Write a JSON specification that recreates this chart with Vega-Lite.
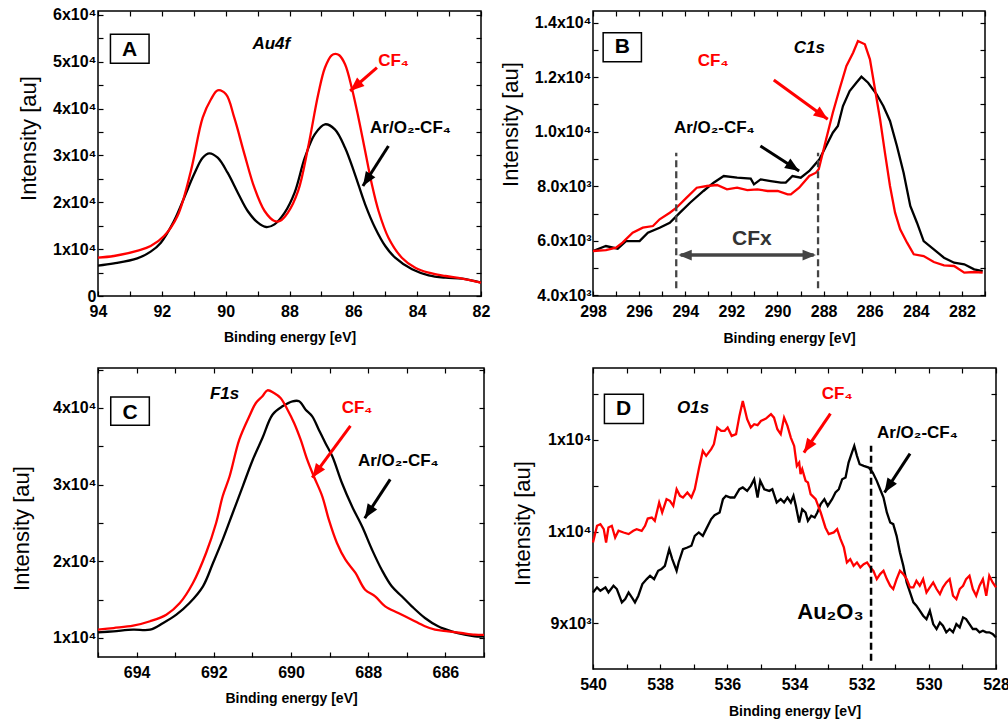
{
  "$schema": "https://vega.github.io/schema/vega-lite/v6.json",
  "background": "white",
  "padding": {"left": 9, "top": 6, "right": 0, "bottom": 0},
  "bounds": "flush",
  "columns": 2,
  "spacing": {"row": 72, "column": 109},
  "datasets": {
    "A": [
      {"E":94,"I":6500,"s":"Ar"},{"E":93.5,"I":6970,"s":"Ar"},{"E":92.77,"I":8040,"s":"Ar"},{"E":92.35,"I":9470,"s":"Ar"},{"E":92.03,"I":11380,"s":"Ar"},{"E":91.62,"I":16010,"s":"Ar"},{"E":91.3,"I":20990,"s":"Ar"},{"E":90.99,"I":25980,"s":"Ar"},{"E":90.72,"I":29530,"s":"Ar"},{"E":90.51,"I":30470,"s":"Ar"},{"E":90.25,"I":29530,"s":"Ar"},{"E":89.94,"I":26330,"s":"Ar"},{"E":89.62,"I":22060,"s":"Ar"},{"E":89.31,"I":18150,"s":"Ar"},{"E":88.99,"I":15650,"s":"Ar"},{"E":88.73,"I":14730,"s":"Ar"},{"E":88.47,"I":15300,"s":"Ar"},{"E":88.15,"I":17790,"s":"Ar"},{"E":87.84,"I":22060,"s":"Ar"},{"E":87.52,"I":29530,"s":"Ar"},{"E":87.21,"I":34520,"s":"Ar"},{"E":86.89,"I":36660,"s":"Ar"},{"E":86.58,"I":35590,"s":"Ar"},{"E":86.26,"I":31660,"s":"Ar"},{"E":85.95,"I":25980,"s":"Ar"},{"E":85.63,"I":19580,"s":"Ar"},{"E":85.32,"I":14580,"s":"Ar"},{"E":85.0,"I":10680,"s":"Ar"},{"E":84.69,"I":8180,"s":"Ar"},{"E":84.16,"I":5700,"s":"Ar"},{"E":83.64,"I":4420,"s":"Ar"},{"E":83.11,"I":3910,"s":"Ar"},{"E":82.59,"I":3700,"s":"Ar"},{"E":82.0,"I":2840,"s":"Ar"},
      {"E":94,"I":8200,"s":"CF4"},{"E":93.5,"I":8540,"s":"CF4"},{"E":92.72,"I":9757,"s":"CF4"},{"E":92.35,"I":10675,"s":"CF4"},{"E":91.93,"I":12810,"s":"CF4"},{"E":91.51,"I":17080,"s":"CF4"},{"E":91.09,"I":26690,"s":"CF4"},{"E":90.72,"I":38070,"s":"CF4"},{"E":90.46,"I":42000,"s":"CF4"},{"E":90.25,"I":43910,"s":"CF4"},{"E":89.99,"I":43060,"s":"CF4"},{"E":89.73,"I":38070,"s":"CF4"},{"E":89.41,"I":30250,"s":"CF4"},{"E":89.1,"I":23120,"s":"CF4"},{"E":88.78,"I":18150,"s":"CF4"},{"E":88.47,"I":16010,"s":"CF4"},{"E":88.3,"I":16010,"s":"CF4"},{"E":88.05,"I":17790,"s":"CF4"},{"E":87.73,"I":22420,"s":"CF4"},{"E":87.42,"I":31660,"s":"CF4"},{"E":87.1,"I":43060,"s":"CF4"},{"E":86.89,"I":48740,"s":"CF4"},{"E":86.68,"I":51400,"s":"CF4"},{"E":86.56,"I":51700,"s":"CF4"},{"E":86.44,"I":51400,"s":"CF4"},{"E":86.26,"I":49470,"s":"CF4"},{"E":86.05,"I":44470,"s":"CF4"},{"E":85.84,"I":38070,"s":"CF4"},{"E":85.63,"I":30960,"s":"CF4"},{"E":85.42,"I":23850,"s":"CF4"},{"E":85.21,"I":18150,"s":"CF4"},{"E":84.9,"I":12450,"s":"CF4"},{"E":84.48,"I":8180,"s":"CF4"},{"E":84.06,"I":6040,"s":"CF4"},{"E":83.64,"I":4980,"s":"CF4"},{"E":83.11,"I":4270,"s":"CF4"},{"E":82.59,"I":3700,"s":"CF4"},{"E":82.0,"I":2840,"s":"CF4"}
    ],
    "B": [
      {"E":298,"I":5625,"s":"Ar"},{"E":297.44,"I":5808,"s":"Ar"},{"E":296.93,"I":5710,"s":"Ar"},{"E":296.57,"I":5990,"s":"Ar"},{"E":295.98,"I":5990,"s":"Ar"},{"E":295.62,"I":6295,"s":"Ar"},{"E":295.11,"I":6480,"s":"Ar"},{"E":294.67,"I":6662,"s":"Ar"},{"E":294.23,"I":7030,"s":"Ar"},{"E":293.79,"I":7395,"s":"Ar"},{"E":293.21,"I":7825,"s":"Ar"},{"E":292.77,"I":8130,"s":"Ar"},{"E":292.33,"I":8375,"s":"Ar"},{"E":291.75,"I":8312,"s":"Ar"},{"E":291.16,"I":8276,"s":"Ar"},{"E":291.02,"I":8070,"s":"Ar"},{"E":290.73,"I":8252,"s":"Ar"},{"E":290.29,"I":8191,"s":"Ar"},{"E":289.85,"I":8130,"s":"Ar"},{"E":289.64,"I":8130,"s":"Ar"},{"E":289.35,"I":8375,"s":"Ar"},{"E":288.99,"I":8312,"s":"Ar"},{"E":288.62,"I":8558,"s":"Ar"},{"E":288.18,"I":8987,"s":"Ar"},{"E":287.89,"I":9475,"s":"Ar"},{"E":287.6,"I":9963,"s":"Ar"},{"E":287.38,"I":10208,"s":"Ar"},{"E":287.16,"I":10940,"s":"Ar"},{"E":286.87,"I":11490,"s":"Ar"},{"E":286.58,"I":11796,"s":"Ar"},{"E":286.36,"I":12016,"s":"Ar"},{"E":286.07,"I":11796,"s":"Ar"},{"E":285.7,"I":11371,"s":"Ar"},{"E":285.41,"I":10940,"s":"Ar"},{"E":285.12,"I":10392,"s":"Ar"},{"E":284.82,"I":9475,"s":"Ar"},{"E":284.53,"I":8496,"s":"Ar"},{"E":284.24,"I":7275,"s":"Ar"},{"E":283.95,"I":6662,"s":"Ar"},{"E":283.66,"I":5990,"s":"Ar"},{"E":283.22,"I":5687,"s":"Ar"},{"E":282.78,"I":5380,"s":"Ar"},{"E":282.34,"I":5195,"s":"Ar"},{"E":281.9,"I":5136,"s":"Ar"},{"E":281.47,"I":4953,"s":"Ar"},{"E":281.1,"I":4890,"s":"Ar"},
      {"E":298,"I":5625,"s":"CF4"},{"E":297.44,"I":5660,"s":"CF4"},{"E":297.0,"I":5745,"s":"CF4"},{"E":296.72,"I":5930,"s":"CF4"},{"E":296.28,"I":6295,"s":"CF4"},{"E":295.84,"I":6480,"s":"CF4"},{"E":295.4,"I":6540,"s":"CF4"},{"E":295.11,"I":6787,"s":"CF4"},{"E":294.67,"I":7030,"s":"CF4"},{"E":294.38,"I":7212,"s":"CF4"},{"E":293.94,"I":7580,"s":"CF4"},{"E":293.5,"I":7945,"s":"CF4"},{"E":293.06,"I":8008,"s":"CF4"},{"E":292.62,"I":8045,"s":"CF4"},{"E":292.19,"I":7887,"s":"CF4"},{"E":291.75,"I":7945,"s":"CF4"},{"E":291.31,"I":7860,"s":"CF4"},{"E":290.87,"I":7887,"s":"CF4"},{"E":290.43,"I":7825,"s":"CF4"},{"E":289.99,"I":7825,"s":"CF4"},{"E":289.56,"I":7703,"s":"CF4"},{"E":289.42,"I":7703,"s":"CF4"},{"E":289.06,"I":7945,"s":"CF4"},{"E":288.62,"I":8375,"s":"CF4"},{"E":288.33,"I":8496,"s":"CF4"},{"E":288.21,"I":8620,"s":"CF4"},{"E":287.89,"I":9720,"s":"CF4"},{"E":287.6,"I":10696,"s":"CF4"},{"E":287.31,"I":11554,"s":"CF4"},{"E":287.01,"I":12408,"s":"CF4"},{"E":286.72,"I":12896,"s":"CF4"},{"E":286.51,"I":13325,"s":"CF4"},{"E":286.21,"I":13204,"s":"CF4"},{"E":285.99,"I":12654,"s":"CF4"},{"E":285.77,"I":11554,"s":"CF4"},{"E":285.55,"I":10454,"s":"CF4"},{"E":285.34,"I":9230,"s":"CF4"},{"E":285.12,"I":8008,"s":"CF4"},{"E":284.9,"I":7030,"s":"CF4"},{"E":284.68,"I":6420,"s":"CF4"},{"E":284.38,"I":5930,"s":"CF4"},{"E":284.09,"I":5504,"s":"CF4"},{"E":283.66,"I":5441,"s":"CF4"},{"E":283.22,"I":5221,"s":"CF4"},{"E":282.78,"I":5100,"s":"CF4"},{"E":282.34,"I":5075,"s":"CF4"},{"E":281.9,"I":4830,"s":"CF4"},{"E":281.47,"I":4855,"s":"CF4"},{"E":281.1,"I":4830,"s":"CF4"}
    ],
    "C": [
      {"E":695,"I":10740,"s":"Ar"},{"E":694.6,"I":10870,"s":"Ar"},{"E":694.09,"I":11080,"s":"Ar"},{"E":693.65,"I":11080,"s":"Ar"},{"E":693.31,"I":11960,"s":"Ar"},{"E":692.97,"I":13040,"s":"Ar"},{"E":692.63,"I":14560,"s":"Ar"},{"E":692.28,"I":16740,"s":"Ar"},{"E":692.02,"I":19780,"s":"Ar"},{"E":691.77,"I":22820,"s":"Ar"},{"E":691.51,"I":26300,"s":"Ar"},{"E":691.25,"I":29780,"s":"Ar"},{"E":690.99,"I":33250,"s":"Ar"},{"E":690.74,"I":36080,"s":"Ar"},{"E":690.48,"I":39120,"s":"Ar"},{"E":690.22,"I":40210,"s":"Ar"},{"E":689.96,"I":40870,"s":"Ar"},{"E":689.79,"I":40870,"s":"Ar"},{"E":689.62,"I":39770,"s":"Ar"},{"E":689.45,"I":38910,"s":"Ar"},{"E":689.28,"I":37170,"s":"Ar"},{"E":689.11,"I":35430,"s":"Ar"},{"E":688.93,"I":33690,"s":"Ar"},{"E":688.68,"I":30210,"s":"Ar"},{"E":688.42,"I":27170,"s":"Ar"},{"E":688.16,"I":24560,"s":"Ar"},{"E":687.9,"I":21510,"s":"Ar"},{"E":687.65,"I":18900,"s":"Ar"},{"E":687.39,"I":16740,"s":"Ar"},{"E":687.13,"I":15440,"s":"Ar"},{"E":686.87,"I":14130,"s":"Ar"},{"E":686.53,"I":12610,"s":"Ar"},{"E":686.19,"I":11530,"s":"Ar"},{"E":685.84,"I":10870,"s":"Ar"},{"E":685.5,"I":10430,"s":"Ar"},{"E":685.24,"I":10220,"s":"Ar"},{"E":685.0,"I":10200,"s":"Ar"},
      {"E":695,"I":11080,"s":"CF4"},{"E":694.6,"I":11300,"s":"CF4"},{"E":694.09,"I":11600,"s":"CF4"},{"E":693.65,"I":12180,"s":"CF4"},{"E":693.23,"I":13040,"s":"CF4"},{"E":692.88,"I":14560,"s":"CF4"},{"E":692.54,"I":17170,"s":"CF4"},{"E":692.2,"I":21080,"s":"CF4"},{"E":691.94,"I":25000,"s":"CF4"},{"E":691.77,"I":28480,"s":"CF4"},{"E":691.59,"I":31090,"s":"CF4"},{"E":691.34,"I":35860,"s":"CF4"},{"E":691.08,"I":38910,"s":"CF4"},{"E":690.91,"I":40640,"s":"CF4"},{"E":690.74,"I":41520,"s":"CF4"},{"E":690.61,"I":42300,"s":"CF4"},{"E":690.44,"I":41950,"s":"CF4"},{"E":690.27,"I":41300,"s":"CF4"},{"E":690.09,"I":39770,"s":"CF4"},{"E":689.92,"I":38040,"s":"CF4"},{"E":689.75,"I":35860,"s":"CF4"},{"E":689.58,"I":33250,"s":"CF4"},{"E":689.41,"I":31090,"s":"CF4"},{"E":689.19,"I":28480,"s":"CF4"},{"E":689.02,"I":25430,"s":"CF4"},{"E":688.81,"I":22390,"s":"CF4"},{"E":688.59,"I":20210,"s":"CF4"},{"E":688.33,"I":18480,"s":"CF4"},{"E":688.08,"I":16300,"s":"CF4"},{"E":687.82,"I":15440,"s":"CF4"},{"E":687.56,"I":14130,"s":"CF4"},{"E":687.22,"I":13260,"s":"CF4"},{"E":686.87,"I":12390,"s":"CF4"},{"E":686.53,"I":11530,"s":"CF4"},{"E":686.27,"I":11080,"s":"CF4"},{"E":685.93,"I":10870,"s":"CF4"},{"E":685.59,"I":10650,"s":"CF4"},{"E":685.24,"I":10430,"s":"CF4"},{"E":685.0,"I":10400,"s":"CF4"}
    ],
    "D": [
      {"E":540.0,"I":9337,"s":"Ar"},{"E":539.88,"I":9392,"s":"Ar"},{"E":539.78,"I":9355,"s":"Ar"},{"E":539.63,"I":9392,"s":"Ar"},{"E":539.54,"I":9337,"s":"Ar"},{"E":539.39,"I":9410,"s":"Ar"},{"E":539.29,"I":9374,"s":"Ar"},{"E":539.14,"I":9229,"s":"Ar"},{"E":539.04,"I":9265,"s":"Ar"},{"E":538.94,"I":9337,"s":"Ar"},{"E":538.81,"I":9265,"s":"Ar"},{"E":538.75,"I":9229,"s":"Ar"},{"E":538.65,"I":9301,"s":"Ar"},{"E":538.53,"I":9428,"s":"Ar"},{"E":538.4,"I":9482,"s":"Ar"},{"E":538.3,"I":9518,"s":"Ar"},{"E":538.18,"I":9482,"s":"Ar"},{"E":538.06,"I":9573,"s":"Ar"},{"E":537.96,"I":9591,"s":"Ar"},{"E":537.86,"I":9627,"s":"Ar"},{"E":537.73,"I":9808,"s":"Ar"},{"E":537.64,"I":9700,"s":"Ar"},{"E":537.51,"I":9573,"s":"Ar"},{"E":537.45,"I":9663,"s":"Ar"},{"E":537.32,"I":9808,"s":"Ar"},{"E":537.19,"I":9826,"s":"Ar"},{"E":537.07,"I":9845,"s":"Ar"},{"E":536.97,"I":9953,"s":"Ar"},{"E":536.85,"I":9990,"s":"Ar"},{"E":536.73,"I":9953,"s":"Ar"},{"E":536.63,"I":10026,"s":"Ar"},{"E":536.48,"I":10135,"s":"Ar"},{"E":536.38,"I":10178,"s":"Ar"},{"E":536.23,"I":10207,"s":"Ar"},{"E":536.13,"I":10352,"s":"Ar"},{"E":536.04,"I":10388,"s":"Ar"},{"E":535.91,"I":10370,"s":"Ar"},{"E":535.79,"I":10370,"s":"Ar"},{"E":535.64,"I":10460,"s":"Ar"},{"E":535.54,"I":10479,"s":"Ar"},{"E":535.41,"I":10442,"s":"Ar"},{"E":535.3,"I":10497,"s":"Ar"},{"E":535.2,"I":10569,"s":"Ar"},{"E":535.1,"I":10370,"s":"Ar"},{"E":535.02,"I":10551,"s":"Ar"},{"E":534.9,"I":10460,"s":"Ar"},{"E":534.75,"I":10442,"s":"Ar"},{"E":534.66,"I":10460,"s":"Ar"},{"E":534.53,"I":10316,"s":"Ar"},{"E":534.41,"I":10352,"s":"Ar"},{"E":534.31,"I":10316,"s":"Ar"},{"E":534.21,"I":10370,"s":"Ar"},{"E":534.11,"I":10316,"s":"Ar"},{"E":534.03,"I":10388,"s":"Ar"},{"E":533.96,"I":10279,"s":"Ar"},{"E":533.86,"I":10098,"s":"Ar"},{"E":533.77,"I":10243,"s":"Ar"},{"E":533.67,"I":10207,"s":"Ar"},{"E":533.6,"I":10116,"s":"Ar"},{"E":533.5,"I":10171,"s":"Ar"},{"E":533.4,"I":10153,"s":"Ar"},{"E":533.32,"I":10207,"s":"Ar"},{"E":533.22,"I":10298,"s":"Ar"},{"E":533.11,"I":10352,"s":"Ar"},{"E":533.01,"I":10279,"s":"Ar"},{"E":532.88,"I":10352,"s":"Ar"},{"E":532.78,"I":10424,"s":"Ar"},{"E":532.68,"I":10460,"s":"Ar"},{"E":532.58,"I":10569,"s":"Ar"},{"E":532.48,"I":10587,"s":"Ar"},{"E":532.39,"I":10750,"s":"Ar"},{"E":532.29,"I":10859,"s":"Ar"},{"E":532.22,"I":10931,"s":"Ar"},{"E":532.14,"I":10823,"s":"Ar"},{"E":532.06,"I":10732,"s":"Ar"},{"E":531.94,"I":10714,"s":"Ar"},{"E":531.79,"I":10696,"s":"Ar"},{"E":531.67,"I":10642,"s":"Ar"},{"E":531.55,"I":10551,"s":"Ar"},{"E":531.45,"I":10460,"s":"Ar"},{"E":531.35,"I":10370,"s":"Ar"},{"E":531.25,"I":10207,"s":"Ar"},{"E":531.15,"I":10098,"s":"Ar"},{"E":531.06,"I":10080,"s":"Ar"},{"E":530.96,"I":9953,"s":"Ar"},{"E":530.86,"I":9772,"s":"Ar"},{"E":530.76,"I":9627,"s":"Ar"},{"E":530.66,"I":9446,"s":"Ar"},{"E":530.56,"I":9337,"s":"Ar"},{"E":530.46,"I":9229,"s":"Ar"},{"E":530.37,"I":9193,"s":"Ar"},{"E":530.27,"I":9138,"s":"Ar"},{"E":530.17,"I":9084,"s":"Ar"},{"E":530.07,"I":9047,"s":"Ar"},{"E":529.97,"I":9138,"s":"Ar"},{"E":529.87,"I":8993,"s":"Ar"},{"E":529.77,"I":8939,"s":"Ar"},{"E":529.67,"I":9011,"s":"Ar"},{"E":529.58,"I":8975,"s":"Ar"},{"E":529.48,"I":8903,"s":"Ar"},{"E":529.38,"I":8939,"s":"Ar"},{"E":529.28,"I":8903,"s":"Ar"},{"E":529.18,"I":8993,"s":"Ar"},{"E":529.08,"I":8957,"s":"Ar"},{"E":528.98,"I":9066,"s":"Ar"},{"E":528.89,"I":9047,"s":"Ar"},{"E":528.79,"I":8993,"s":"Ar"},{"E":528.69,"I":8939,"s":"Ar"},{"E":528.59,"I":8939,"s":"Ar"},{"E":528.49,"I":8903,"s":"Ar"},{"E":528.39,"I":8921,"s":"Ar"},{"E":528.29,"I":8903,"s":"Ar"},{"E":528.2,"I":8903,"s":"Ar"},{"E":528.1,"I":8885,"s":"Ar"},{"E":528.0,"I":8848,"s":"Ar"},
      {"E":540.0,"I":9880,"s":"CF4"},{"E":539.88,"I":10062,"s":"CF4"},{"E":539.78,"I":10080,"s":"CF4"},{"E":539.68,"I":10026,"s":"CF4"},{"E":539.61,"I":9880,"s":"CF4"},{"E":539.54,"I":10044,"s":"CF4"},{"E":539.44,"I":10062,"s":"CF4"},{"E":539.34,"I":9935,"s":"CF4"},{"E":539.24,"I":10008,"s":"CF4"},{"E":539.09,"I":9989,"s":"CF4"},{"E":538.94,"I":9972,"s":"CF4"},{"E":538.8,"I":10008,"s":"CF4"},{"E":538.7,"I":10026,"s":"CF4"},{"E":538.55,"I":10008,"s":"CF4"},{"E":538.45,"I":10062,"s":"CF4"},{"E":538.37,"I":10141,"s":"CF4"},{"E":538.25,"I":10152,"s":"CF4"},{"E":538.16,"I":10116,"s":"CF4"},{"E":538.03,"I":10315,"s":"CF4"},{"E":537.94,"I":10207,"s":"CF4"},{"E":537.81,"I":10352,"s":"CF4"},{"E":537.71,"I":10334,"s":"CF4"},{"E":537.61,"I":10279,"s":"CF4"},{"E":537.51,"I":10461,"s":"CF4"},{"E":537.41,"I":10388,"s":"CF4"},{"E":537.32,"I":10370,"s":"CF4"},{"E":537.19,"I":10424,"s":"CF4"},{"E":537.07,"I":10370,"s":"CF4"},{"E":536.97,"I":10461,"s":"CF4"},{"E":536.84,"I":10696,"s":"CF4"},{"E":536.73,"I":10877,"s":"CF4"},{"E":536.63,"I":10823,"s":"CF4"},{"E":536.48,"I":10896,"s":"CF4"},{"E":536.4,"I":10950,"s":"CF4"},{"E":536.3,"I":11131,"s":"CF4"},{"E":536.18,"I":11095,"s":"CF4"},{"E":536.08,"I":11095,"s":"CF4"},{"E":535.99,"I":11131,"s":"CF4"},{"E":535.87,"I":11040,"s":"CF4"},{"E":535.74,"I":11059,"s":"CF4"},{"E":535.64,"I":11258,"s":"CF4"},{"E":535.54,"I":11421,"s":"CF4"},{"E":535.41,"I":11222,"s":"CF4"},{"E":535.3,"I":11131,"s":"CF4"},{"E":535.2,"I":11167,"s":"CF4"},{"E":535.1,"I":11157,"s":"CF4"},{"E":535.0,"I":11203,"s":"CF4"},{"E":534.85,"I":11228,"s":"CF4"},{"E":534.7,"I":11276,"s":"CF4"},{"E":534.61,"I":11239,"s":"CF4"},{"E":534.51,"I":11113,"s":"CF4"},{"E":534.41,"I":11059,"s":"CF4"},{"E":534.31,"I":11239,"s":"CF4"},{"E":534.21,"I":11149,"s":"CF4"},{"E":534.11,"I":11022,"s":"CF4"},{"E":534.01,"I":10931,"s":"CF4"},{"E":533.93,"I":10714,"s":"CF4"},{"E":533.86,"I":10750,"s":"CF4"},{"E":533.82,"I":10624,"s":"CF4"},{"E":533.77,"I":10678,"s":"CF4"},{"E":533.67,"I":10551,"s":"CF4"},{"E":533.6,"I":10533,"s":"CF4"},{"E":533.52,"I":10406,"s":"CF4"},{"E":533.37,"I":10352,"s":"CF4"},{"E":533.22,"I":10207,"s":"CF4"},{"E":533.08,"I":10044,"s":"CF4"},{"E":532.98,"I":9971,"s":"CF4"},{"E":532.83,"I":9990,"s":"CF4"},{"E":532.73,"I":10026,"s":"CF4"},{"E":532.63,"I":9917,"s":"CF4"},{"E":532.53,"I":9827,"s":"CF4"},{"E":532.44,"I":9663,"s":"CF4"},{"E":532.34,"I":9700,"s":"CF4"},{"E":532.24,"I":9627,"s":"CF4"},{"E":532.14,"I":9663,"s":"CF4"},{"E":532.04,"I":9609,"s":"CF4"},{"E":531.94,"I":9645,"s":"CF4"},{"E":531.84,"I":9663,"s":"CF4"},{"E":531.74,"I":9609,"s":"CF4"},{"E":531.65,"I":9573,"s":"CF4"},{"E":531.55,"I":9482,"s":"CF4"},{"E":531.45,"I":9537,"s":"CF4"},{"E":531.35,"I":9573,"s":"CF4"},{"E":531.25,"I":9482,"s":"CF4"},{"E":531.15,"I":9410,"s":"CF4"},{"E":531.06,"I":9374,"s":"CF4"},{"E":530.96,"I":9482,"s":"CF4"},{"E":530.86,"I":9573,"s":"CF4"},{"E":530.76,"I":9537,"s":"CF4"},{"E":530.66,"I":9482,"s":"CF4"},{"E":530.56,"I":9392,"s":"CF4"},{"E":530.46,"I":9392,"s":"CF4"},{"E":530.37,"I":9464,"s":"CF4"},{"E":530.27,"I":9410,"s":"CF4"},{"E":530.17,"I":9482,"s":"CF4"},{"E":530.07,"I":9337,"s":"CF4"},{"E":529.97,"I":9392,"s":"CF4"},{"E":529.87,"I":9446,"s":"CF4"},{"E":529.77,"I":9374,"s":"CF4"},{"E":529.67,"I":9319,"s":"CF4"},{"E":529.58,"I":9392,"s":"CF4"},{"E":529.48,"I":9446,"s":"CF4"},{"E":529.38,"I":9482,"s":"CF4"},{"E":529.28,"I":9301,"s":"CF4"},{"E":529.18,"I":9265,"s":"CF4"},{"E":529.08,"I":9374,"s":"CF4"},{"E":528.98,"I":9410,"s":"CF4"},{"E":528.89,"I":9482,"s":"CF4"},{"E":528.79,"I":9518,"s":"CF4"},{"E":528.69,"I":9374,"s":"CF4"},{"E":528.59,"I":9301,"s":"CF4"},{"E":528.49,"I":9410,"s":"CF4"},{"E":528.39,"I":9482,"s":"CF4"},{"E":528.29,"I":9301,"s":"CF4"},{"E":528.2,"I":9518,"s":"CF4"},{"E":528.1,"I":9446,"s":"CF4"},{"E":528.0,"I":9392,"s":"CF4"}
    ]
  },
  "concat": [
    {
      "width": 383, "height": 285,
      "resolve": {"axis": {"x": "independent", "y": "independent"}},
      "layer": [
        {"data": {"name": "A"}, "mark": {"type": "line", "strokeWidth": 2.3, "interpolate": "catmull-rom"},
         "encoding": {
           "x": {"field": "E", "type": "quantitative", "scale": {"domain": [94, 82], "nice": false, "zero": false},
                 "axis": {"values": [82,83,84,85,86,87,88,89,90,91,92,93,94], "labelExpr": "datum.value % 2 == 0 ? datum.label : ''", "title": "Binding energy [eV]", "titleY": 41, "titleBaseline": "middle"}},
           "y": {"field": "I", "type": "quantitative", "scale": {"domain": [0, 60850], "nice": false, "zero": false},
                 "axis": {"values": [0,5000,10000,15000,20000,25000,30000,35000,40000,45000,50000,55000,60000], "labelExpr": "datum.value == 0 ? '0' : (datum.value % 10000 == 0 ? format(datum.value/10000,'d') + 'x10⁴' : '')", "title": "Intensity [au]", "titleX": -70, "titleY": 127, "titleBaseline": "middle"}},
           "color": {"field": "s", "type": "nominal", "scale": {"domain": ["Ar", "CF4"], "range": ["#000000", "#ff0000"]}, "legend": null}
         }},
        {"data": {"name": "A"}, "mark": {"type": "point", "opacity": 0},
         "encoding": {
           "x": {"field": "E", "type": "quantitative", "axis": {"orient": "top", "values": [82,83,84,85,86,87,88,89,90,91,92,93,94], "labels": false, "title": null}},
           "y": {"field": "I", "type": "quantitative", "axis": {"orient": "right", "values": [0,5000,10000,15000,20000,25000,30000,35000,40000,45000,50000,55000,60000], "labels": false, "title": null}}
         }},
        {"data": {"values": [{"E": 93.61, "E2": 92.4, "I": 55870, "I2": 49680}]}, "mark": {"type": "rect", "fill": "white", "stroke": "black", "strokeWidth": 1.5},
         "encoding": {"x": {"field": "E", "type": "quantitative", "axis": null}, "x2": {"field": "E2"}, "y": {"field": "I", "type": "quantitative", "axis": null}, "y2": {"field": "I2"}}},
        {"data": {"values": [{"E": 93.01, "I": 52460, "t": "A"}]}, "mark": {"type": "text", "fontSize": 21, "fontWeight": "bold", "color": "black"},
         "encoding": {"x": {"field": "E", "type": "quantitative", "axis": null}, "y": {"field": "I", "type": "quantitative", "axis": null}, "text": {"field": "t"}}},
        {"data": {"values": [{"E": 88.57, "I": 53740, "t": "Au4f"}]}, "mark": {"type": "text", "fontSize": 17, "fontWeight": "bold", "fontStyle": "italic", "color": "black"},
         "encoding": {"x": {"field": "E", "type": "quantitative", "axis": null}, "y": {"field": "I", "type": "quantitative", "axis": null}, "text": {"field": "t"}}},
        {"data": {"values": [{"E": 84.74, "I": 50170, "t": "CF₄"}]}, "mark": {"type": "text", "fontSize": 17, "fontWeight": "bold", "color": "#ff0000"},
         "encoding": {"x": {"field": "E", "type": "quantitative", "axis": null}, "y": {"field": "I", "type": "quantitative", "axis": null}, "text": {"field": "t"}}},
        {"data": {"values": [{"E": 84.21, "I": 35930, "t": "Ar/O₂-CF₄"}]}, "mark": {"type": "text", "fontSize": 17, "fontWeight": "bold", "color": "black"},
         "encoding": {"x": {"field": "E", "type": "quantitative", "axis": null}, "y": {"field": "I", "type": "quantitative", "axis": null}, "text": {"field": "t"}}},
        {"data": {"values": [{"E": 85.26, "I": 48740, "E2": 86.1, "I2": 43770}]}, "mark": {"type": "rule", "color": "#ff0000", "strokeWidth": 3},
         "encoding": {"x": {"field": "E", "type": "quantitative", "axis": null}, "y": {"field": "I", "type": "quantitative", "axis": null}, "x2": {"field": "E2"}, "y2": {"field": "I2"}}},
        {"data": {"values": [{"E": 86.1, "I": 43770}]}, "mark": {"type": "point", "shape": "M0,0L-0.8,2L0.8,2Z", "filled": true, "opacity": 1, "size": 200, "angle": 229, "color": "#ff0000"},
         "encoding": {"x": {"field": "E", "type": "quantitative", "axis": null}, "y": {"field": "I", "type": "quantitative", "axis": null}}},
        {"data": {"values": [{"E": 84.9, "I": 32030, "E2": 85.7, "I2": 23490}]}, "mark": {"type": "rule", "color": "black", "strokeWidth": 3},
         "encoding": {"x": {"field": "E", "type": "quantitative", "axis": null}, "y": {"field": "I", "type": "quantitative", "axis": null}, "x2": {"field": "E2"}, "y2": {"field": "I2"}}},
        {"data": {"values": [{"E": 85.7, "I": 23490}]}, "mark": {"type": "point", "shape": "M0,0L-0.8,2L0.8,2Z", "filled": true, "opacity": 1, "size": 200, "angle": 213, "color": "black"},
         "encoding": {"x": {"field": "E", "type": "quantitative", "axis": null}, "y": {"field": "I", "type": "quantitative", "axis": null}}}
      ]
    },
    {
      "width": 392, "height": 285,
      "resolve": {"axis": {"x": "independent", "y": "independent"}},
      "layer": [
        {"data": {"name": "B"}, "mark": {"type": "line", "strokeWidth": 2.3},
         "encoding": {
           "x": {"field": "E", "type": "quantitative", "scale": {"domain": [298, 281], "nice": false, "zero": false},
                 "axis": {"values": [281,282,283,284,285,286,287,288,289,290,291,292,293,294,295,296,297,298], "labelExpr": "datum.value % 2 == 0 ? datum.label : ''", "title": "Binding energy [eV]", "titleY": 42, "titleBaseline": "middle"}},
           "y": {"field": "I", "type": "quantitative", "scale": {"domain": [3975, 14425], "nice": false, "zero": false},
                 "axis": {"values": [4000,5000,6000,7000,8000,9000,10000,11000,12000,13000,14000], "labelExpr": "datum.value % 2000 != 0 ? '' : (datum.value < 10000 ? format(datum.value/1000,'.1f') + 'x10³' : format(datum.value/10000,'.1f') + 'x10⁴')", "title": "Intensity [au]", "titleX": -83, "titleY": 113, "titleBaseline": "middle"}},
           "color": {"field": "s", "type": "nominal", "scale": {"domain": ["Ar", "CF4"], "range": ["#000000", "#ff0000"]}, "legend": null}
         }},
        {"data": {"name": "B"}, "mark": {"type": "point", "opacity": 0},
         "encoding": {
           "x": {"field": "E", "type": "quantitative", "axis": {"orient": "top", "values": [281,282,283,284,285,286,287,288,289,290,291,292,293,294,295,296,297,298], "labels": false, "title": null}},
           "y": {"field": "I", "type": "quantitative", "axis": {"orient": "right", "values": [4000,5000,6000,7000,8000,9000,10000,11000,12000,13000,14000], "labels": false, "title": null}}
         }},
        {"data": {"values": [{"E": 294.39, "I": 4257, "I2": 9229}, {"E": 288.24, "I": 4257, "I2": 9229}]}, "mark": {"type": "rule", "color": "#444444", "strokeWidth": 2.3, "strokeDash": [7, 4]},
         "encoding": {"x": {"field": "E", "type": "quantitative", "axis": null}, "y": {"field": "I", "type": "quantitative", "axis": null}, "y2": {"field": "I2"}}},
        {"data": {"values": [{"E": 294.2, "I": 5478, "E2": 288.43}]}, "mark": {"type": "rule", "color": "#444444", "strokeWidth": 3.5},
         "encoding": {"x": {"field": "E", "type": "quantitative", "axis": null}, "y": {"field": "I", "type": "quantitative", "axis": null}, "x2": {"field": "E2"}}},
        {"data": {"values": [{"E": 294.3, "I": 5478}]}, "mark": {"type": "point", "shape": "M0,0L-0.8,2L0.8,2Z", "filled": true, "opacity": 1, "size": 180, "angle": 270, "color": "#444444"},
         "encoding": {"x": {"field": "E", "type": "quantitative", "axis": null}, "y": {"field": "I", "type": "quantitative", "axis": null}}},
        {"data": {"values": [{"E": 288.33, "I": 5478}]}, "mark": {"type": "point", "shape": "M0,0L-0.8,2L0.8,2Z", "filled": true, "opacity": 1, "size": 180, "angle": 90, "color": "#444444"},
         "encoding": {"x": {"field": "E", "type": "quantitative", "axis": null}, "y": {"field": "I", "type": "quantitative", "axis": null}}},
        {"data": {"values": [{"E": 291.11, "I": 6054, "t": "CFx"}]}, "mark": {"type": "text", "fontSize": 21, "fontWeight": "bold", "color": "#333333"},
         "encoding": {"x": {"field": "E", "type": "quantitative", "axis": null}, "y": {"field": "I", "type": "quantitative", "axis": null}, "text": {"field": "t"}}},
        {"data": {"values": [{"E": 297.56, "E2": 295.9, "I": 13630, "I2": 12566}]}, "mark": {"type": "rect", "fill": "white", "stroke": "black", "strokeWidth": 1.5},
         "encoding": {"x": {"field": "E", "type": "quantitative", "axis": null}, "x2": {"field": "E2"}, "y": {"field": "I", "type": "quantitative", "axis": null}, "y2": {"field": "I2"}}},
        {"data": {"values": [{"E": 296.73, "I": 13105, "t": "B"}]}, "mark": {"type": "text", "fontSize": 21, "fontWeight": "bold", "color": "black"},
         "encoding": {"x": {"field": "E", "type": "quantitative", "axis": null}, "y": {"field": "I", "type": "quantitative", "axis": null}, "text": {"field": "t"}}},
        {"data": {"values": [{"E": 288.62, "I": 13080, "t": "C1s"}]}, "mark": {"type": "text", "fontSize": 17, "fontWeight": "bold", "fontStyle": "italic", "color": "black"},
         "encoding": {"x": {"field": "E", "type": "quantitative", "axis": null}, "y": {"field": "I", "type": "quantitative", "axis": null}, "text": {"field": "t"}}},
        {"data": {"values": [{"E": 292.79, "I": 12590, "t": "CF₄"}]}, "mark": {"type": "text", "fontSize": 17, "fontWeight": "bold", "color": "#ff0000"},
         "encoding": {"x": {"field": "E", "type": "quantitative", "axis": null}, "y": {"field": "I", "type": "quantitative", "axis": null}, "text": {"field": "t"}}},
        {"data": {"values": [{"E": 292.74, "I": 10146, "t": "Ar/O₂-CF₄"}]}, "mark": {"type": "text", "fontSize": 17, "fontWeight": "bold", "color": "black"},
         "encoding": {"x": {"field": "E", "type": "quantitative", "axis": null}, "y": {"field": "I", "type": "quantitative", "axis": null}, "text": {"field": "t"}}},
        {"data": {"values": [{"E": 290.16, "I": 11895, "E2": 287.82, "I2": 10454}]}, "mark": {"type": "rule", "color": "#ff0000", "strokeWidth": 3},
         "encoding": {"x": {"field": "E", "type": "quantitative", "axis": null}, "y": {"field": "I", "type": "quantitative", "axis": null}, "x2": {"field": "E2"}, "y2": {"field": "I2"}}},
        {"data": {"values": [{"E": 287.82, "I": 10454}]}, "mark": {"type": "point", "shape": "M0,0L-0.8,2L0.8,2Z", "filled": true, "opacity": 1, "size": 200, "angle": 126, "color": "#ff0000"},
         "encoding": {"x": {"field": "E", "type": "quantitative", "axis": null}, "y": {"field": "I", "type": "quantitative", "axis": null}}},
        {"data": {"values": [{"E": 290.74, "I": 9475, "E2": 289.06, "I2": 8558}]}, "mark": {"type": "rule", "color": "black", "strokeWidth": 3},
         "encoding": {"x": {"field": "E", "type": "quantitative", "axis": null}, "y": {"field": "I", "type": "quantitative", "axis": null}, "x2": {"field": "E2"}, "y2": {"field": "I2"}}},
        {"data": {"values": [{"E": 289.06, "I": 8558}]}, "mark": {"type": "point", "shape": "M0,0L-0.8,2L0.8,2Z", "filled": true, "opacity": 1, "size": 200, "angle": 123, "color": "black"},
         "encoding": {"x": {"field": "E", "type": "quantitative", "axis": null}, "y": {"field": "I", "type": "quantitative", "axis": null}}}
      ]
    },
    {
      "width": 386, "height": 289,
      "resolve": {"axis": {"x": "independent", "y": "independent"}},
      "layer": [
        {"data": {"name": "C"}, "mark": {"type": "line", "strokeWidth": 2.3, "interpolate": "catmull-rom"},
         "encoding": {
           "x": {"field": "E", "type": "quantitative", "scale": {"domain": [695, 685], "nice": false, "zero": false},
                 "axis": {"values": [685,686,687,688,689,690,691,692,693,694,695], "labelExpr": "datum.value % 2 == 0 ? datum.label : ''", "title": "Binding energy [eV]", "titleY": 41, "titleBaseline": "middle"}},
           "y": {"field": "I", "type": "quantitative", "scale": {"domain": [7522, 45208], "nice": false, "zero": false},
                 "axis": {"values": [10000,15000,20000,25000,30000,35000,40000,45000], "labelExpr": "datum.value % 10000 == 0 ? format(datum.value/10000,'d') + 'x10⁴' : ''", "title": "Intensity [au]", "titleX": -77, "titleY": 160, "titleBaseline": "middle"}},
           "color": {"field": "s", "type": "nominal", "scale": {"domain": ["Ar", "CF4"], "range": ["#000000", "#ff0000"]}, "legend": null}
         }},
        {"data": {"name": "C"}, "mark": {"type": "point", "opacity": 0},
         "encoding": {
           "x": {"field": "E", "type": "quantitative", "axis": {"orient": "top", "values": [685,686,687,688,689,690,691,692,693,694,695], "labels": false, "title": null}},
           "y": {"field": "I", "type": "quantitative", "axis": {"orient": "right", "values": [10000,15000,20000,25000,30000,35000,40000,45000], "labels": false, "title": null}}
         }},
        {"data": {"values": [{"E": 694.67, "E2": 693.67, "I": 41430, "I2": 37740}]}, "mark": {"type": "rect", "fill": "white", "stroke": "black", "strokeWidth": 1.5},
         "encoding": {"x": {"field": "E", "type": "quantitative", "axis": null}, "x2": {"field": "E2"}, "y": {"field": "I", "type": "quantitative", "axis": null}, "y2": {"field": "I2"}}},
        {"data": {"values": [{"E": 694.17, "I": 39380, "t": "C"}]}, "mark": {"type": "text", "fontSize": 21, "fontWeight": "bold", "color": "black"},
         "encoding": {"x": {"field": "E", "type": "quantitative", "axis": null}, "y": {"field": "I", "type": "quantitative", "axis": null}, "text": {"field": "t"}}},
        {"data": {"values": [{"E": 691.72, "I": 41780, "t": "F1s"}]}, "mark": {"type": "text", "fontSize": 17, "fontWeight": "bold", "fontStyle": "italic", "color": "black"},
         "encoding": {"x": {"field": "E", "type": "quantitative", "axis": null}, "y": {"field": "I", "type": "quantitative", "axis": null}, "text": {"field": "t"}}},
        {"data": {"values": [{"E": 688.29, "I": 40030, "t": "CF₄"}]}, "mark": {"type": "text", "fontSize": 17, "fontWeight": "bold", "color": "#ff0000"},
         "encoding": {"x": {"field": "E", "type": "quantitative", "axis": null}, "y": {"field": "I", "type": "quantitative", "axis": null}, "text": {"field": "t"}}},
        {"data": {"values": [{"E": 687.22, "I": 33080, "t": "Ar/O₂-CF₄"}]}, "mark": {"type": "text", "fontSize": 17, "fontWeight": "bold", "color": "black"},
         "encoding": {"x": {"field": "E", "type": "quantitative", "axis": null}, "y": {"field": "I", "type": "quantitative", "axis": null}, "text": {"field": "t"}}},
        {"data": {"values": [{"E": 688.46, "I": 37650, "E2": 689.45, "I2": 30900}]}, "mark": {"type": "rule", "color": "#ff0000", "strokeWidth": 3},
         "encoding": {"x": {"field": "E", "type": "quantitative", "axis": null}, "y": {"field": "I", "type": "quantitative", "axis": null}, "x2": {"field": "E2"}, "y2": {"field": "I2"}}},
        {"data": {"values": [{"E": 689.45, "I": 30900}]}, "mark": {"type": "point", "shape": "M0,0L-0.8,2L0.8,2Z", "filled": true, "opacity": 1, "size": 200, "angle": 216, "color": "#ff0000"},
         "encoding": {"x": {"field": "E", "type": "quantitative", "axis": null}, "y": {"field": "I", "type": "quantitative", "axis": null}}},
        {"data": {"values": [{"E": 687.43, "I": 30690, "E2": 688.09, "I2": 25610}]}, "mark": {"type": "rule", "color": "black", "strokeWidth": 3},
         "encoding": {"x": {"field": "E", "type": "quantitative", "axis": null}, "y": {"field": "I", "type": "quantitative", "axis": null}, "x2": {"field": "E2"}, "y2": {"field": "I2"}}},
        {"data": {"values": [{"E": 688.09, "I": 25610}]}, "mark": {"type": "point", "shape": "M0,0L-0.8,2L0.8,2Z", "filled": true, "opacity": 1, "size": 200, "angle": 213, "color": "black"},
         "encoding": {"x": {"field": "E", "type": "quantitative", "axis": null}, "y": {"field": "I", "type": "quantitative", "axis": null}}}
      ]
    },
    {
      "width": 403, "height": 301,
      "resolve": {"axis": {"x": "independent", "y": "independent"}},
      "layer": [
        {"data": {"name": "D"}, "mark": {"type": "line", "strokeWidth": 2.3},
         "encoding": {
           "x": {"field": "E", "type": "quantitative", "scale": {"domain": [540, 528], "nice": false, "zero": false},
                 "axis": {"values": [528,529,530,531,532,533,534,535,536,537,538,539,540], "labelExpr": "datum.value % 2 == 0 ? datum.label : ''", "title": "Binding energy [eV]", "titleY": 42, "titleBaseline": "middle"}},
           "y": {"field": "I", "type": "quantitative", "scale": {"domain": [8504, 11779], "nice": false, "zero": false},
                 "axis": {"values": [8500,9000,9500,10000,10500,11000,11500], "labelExpr": "datum.value % 1000 != 0 ? '' : (datum.value < 10000 ? format(datum.value/1000,'.0f') + 'x10³' : format(datum.value/10000,'.0f') + 'x10⁴')", "title": "Intensity [au]", "titleX": -71, "titleY": 155, "titleBaseline": "middle"}},
           "color": {"field": "s", "type": "nominal", "scale": {"domain": ["Ar", "CF4"], "range": ["#000000", "#ff0000"]}, "legend": null}
         }},
        {"data": {"name": "D"}, "mark": {"type": "point", "opacity": 0},
         "encoding": {
           "x": {"field": "E", "type": "quantitative", "axis": {"orient": "top", "values": [528,529,530,531,532,533,534,535,536,537,538,539,540], "labels": false, "title": null}},
           "y": {"field": "I", "type": "quantitative", "axis": {"orient": "right", "values": [8500,9000,9500,10000,10500,11000,11500], "labels": false, "title": null}}
         }},
        {"data": {"values": [{"E": 531.72, "I": 8595, "I2": 10932}]}, "mark": {"type": "rule", "color": "black", "strokeWidth": 2.5, "strokeDash": [7, 4]},
         "encoding": {"x": {"field": "E", "type": "quantitative", "axis": null}, "y": {"field": "I", "type": "quantitative", "axis": null}, "y2": {"field": "I2"}}},
        {"data": {"values": [{"E": 539.66, "E2": 538.5, "I": 11494, "I2": 11174}]}, "mark": {"type": "rect", "fill": "white", "stroke": "black", "strokeWidth": 1.5},
         "encoding": {"x": {"field": "E", "type": "quantitative", "axis": null}, "x2": {"field": "E2"}, "y": {"field": "I", "type": "quantitative", "axis": null}, "y2": {"field": "I2"}}},
        {"data": {"values": [{"E": 539.09, "I": 11331, "t": "D"}]}, "mark": {"type": "text", "fontSize": 21, "fontWeight": "bold", "color": "black"},
         "encoding": {"x": {"field": "E", "type": "quantitative", "axis": null}, "y": {"field": "I", "type": "quantitative", "axis": null}, "text": {"field": "t"}}},
        {"data": {"values": [{"E": 537.02, "I": 11348, "t": "O1s"}]}, "mark": {"type": "text", "fontSize": 17, "fontWeight": "bold", "fontStyle": "italic", "color": "black"},
         "encoding": {"x": {"field": "E", "type": "quantitative", "axis": null}, "y": {"field": "I", "type": "quantitative", "axis": null}, "text": {"field": "t"}}},
        {"data": {"values": [{"E": 532.73, "I": 11494, "t": "CF₄"}]}, "mark": {"type": "text", "fontSize": 17, "fontWeight": "bold", "color": "#ff0000"},
         "encoding": {"x": {"field": "E", "type": "quantitative", "axis": null}, "y": {"field": "I", "type": "quantitative", "axis": null}, "text": {"field": "t"}}},
        {"data": {"values": [{"E": 530.34, "I": 11076, "t": "Ar/O₂-CF₄"}]}, "mark": {"type": "text", "fontSize": 17, "fontWeight": "bold", "color": "black"},
         "encoding": {"x": {"field": "E", "type": "quantitative", "axis": null}, "y": {"field": "I", "type": "quantitative", "axis": null}, "text": {"field": "t"}}},
        {"data": {"values": [{"E": 532.93, "I": 9120, "t": "Au₂O₃"}]}, "mark": {"type": "text", "fontSize": 22, "fontWeight": "bold", "color": "black"},
         "encoding": {"x": {"field": "E", "type": "quantitative", "axis": null}, "y": {"field": "I", "type": "quantitative", "axis": null}, "text": {"field": "t"}}},
        {"data": {"values": [{"E": 532.93, "I": 11283, "E2": 533.72, "I2": 10859}]}, "mark": {"type": "rule", "color": "#ff0000", "strokeWidth": 3},
         "encoding": {"x": {"field": "E", "type": "quantitative", "axis": null}, "y": {"field": "I", "type": "quantitative", "axis": null}, "x2": {"field": "E2"}, "y2": {"field": "I2"}}},
        {"data": {"values": [{"E": 533.72, "I": 10859}]}, "mark": {"type": "point", "shape": "M0,0L-0.8,2L0.8,2Z", "filled": true, "opacity": 1, "size": 200, "angle": 214, "color": "#ff0000"},
         "encoding": {"x": {"field": "E", "type": "quantitative", "axis": null}, "y": {"field": "I", "type": "quantitative", "axis": null}}},
        {"data": {"values": [{"E": 530.56, "I": 10848, "E2": 531.32, "I2": 10424}]}, "mark": {"type": "rule", "color": "black", "strokeWidth": 3},
         "encoding": {"x": {"field": "E", "type": "quantitative", "axis": null}, "y": {"field": "I", "type": "quantitative", "axis": null}, "x2": {"field": "E2"}, "y2": {"field": "I2"}}},
        {"data": {"values": [{"E": 531.32, "I": 10424}]}, "mark": {"type": "point", "shape": "M0,0L-0.8,2L0.8,2Z", "filled": true, "opacity": 1, "size": 200, "angle": 213, "color": "black"},
         "encoding": {"x": {"field": "E", "type": "quantitative", "axis": null}, "y": {"field": "I", "type": "quantitative", "axis": null}}}
      ]
    }
  ],
  "config": {
    "view": {"stroke": "#000000", "strokeWidth": 1.5},
    "axis": {"domain": false, "grid": false, "tickColor": "#000000", "tickSize": -5, "tickWidth": 1.2, "labelFont": "Liberation Sans", "labelFontWeight": "bold", "labelFontSize": 16, "labelColor": "#000000", "labelFlush": false, "labelOverlap": false, "titleFont": "Liberation Sans", "titleColor": "#000000"},
    "axisX": {"titleFontSize": 14, "titleFontWeight": "bold", "labelPadding": 12},
    "axisY": {"titleFontSize": 22, "titleFontWeight": "normal", "labelPadding": 7},
    "text": {"font": "Liberation Sans"}
  }
}
